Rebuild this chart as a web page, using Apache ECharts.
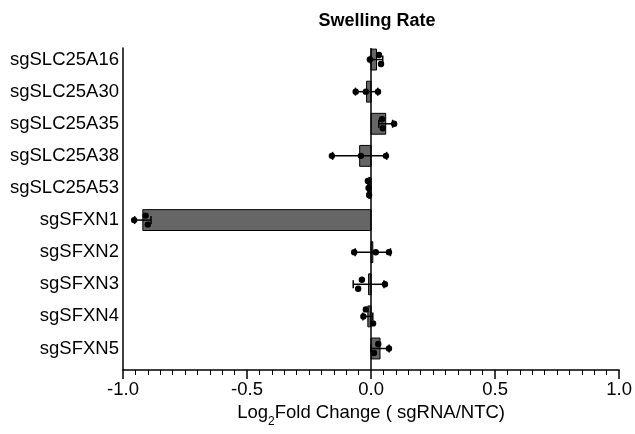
<!DOCTYPE html>
<html>
<head>
<meta charset="utf-8">
<script src="https://cdn.jsdelivr.net/npm/echarts@6/dist/echarts.min.js"></script>
<style>html,body{margin:0;padding:0;background:#fff}#c{width:635px;height:434px}</style>
</head>
<body>
<div id="c"></div>
<script>
var categories = ['sgSLC25A16','sgSLC25A30','sgSLC25A35','sgSLC25A38','sgSLC25A53','sgSFXN1','sgSFXN2','sgSFXN3','sgSFXN4','sgSFXN5'];
var means = [0.022, -0.018, 0.059, -0.046, -0.010, -0.920, 0.007, -0.010, -0.013, 0.036];
var sds   = [0.025, 0.045, 0.028, 0.109, 0.003, 0.033, 0.071, 0.062, 0.020, 0.037];
var rep1  = [-0.005, -0.062, 0.044, -0.158, -0.013, -0.955, -0.068, -0.037, -0.021, 0.029];
var rep2  = [0.032, -0.021, 0.047, -0.041, -0.010, -0.909, 0.019, -0.052, -0.031, 0.012];
var rep3  = [0.040, 0.028, 0.093, 0.060, -0.008, -0.900, 0.072, 0.056, 0.008, 0.072];
var xTicks = [-1.0, -0.5, 0.0, 0.5, 1.0];

var FONT = '"Liberation Sans", Arial, sans-serif';
var chart = echarts.init(document.getElementById('c'), null, {renderer: 'canvas'});

var barData = categories.map(function (c, i) { return [means[i], i]; });
var errData = categories.map(function (c, i) { return [means[i], i, sds[i]]; });
var dotData = categories.map(function (c, i) { return [rep1[i], i, rep2[i], rep3[i]]; });

function renderBar(params, api) {
  var v = api.value(0), i = api.value(1);
  var p0 = api.coord([0, i]);
  var p1 = api.coord([v, i]);
  var h = api.size([0, 0.65])[1];
  var x = Math.min(p0[0], p1[0]);
  var w = Math.abs(p1[0] - p0[0]);
  return {
    type: 'rect',
    shape: {x: x, y: p0[1] - h / 2, width: w, height: h},
    style: {fill: '#666666', stroke: '#000', lineWidth: 1}
  };
}

function renderErr(params, api) {
  var m = api.value(0), i = api.value(1), s = api.value(2);
  var pl = api.coord([m - s, i]);
  var pr = api.coord([m + s, i]);
  var cap = 4;
  var st = {stroke: '#000', lineWidth: 1.5};
  return {
    type: 'group',
    children: [
      {type: 'line', shape: {x1: pl[0], y1: pl[1], x2: pr[0], y2: pr[1]}, style: st},
      {type: 'line', shape: {x1: pl[0], y1: pl[1] - cap, x2: pl[0], y2: pl[1] + cap}, style: st},
      {type: 'line', shape: {x1: pr[0], y1: pr[1] - cap, x2: pr[0], y2: pr[1] + cap}, style: st}
    ]
  };
}

function renderDots(params, api) {
  var i = api.value(1);
  var vals = [api.value(0), api.value(2), api.value(3)];
  var pts = vals.map(function (v) { return api.coord([v, i]); });
  // simple beeswarm-like spreading of overlapping dots
  var n = pts.length, groups = [], used = [];
  for (var a = 0; a < n; a++) {
    if (used[a]) continue;
    var g = [a]; used[a] = true;
    for (var b = a + 1; b < n; b++) {
      if (!used[b] && g.some(function (k) { return Math.abs(pts[k][0] - pts[b][0]) < 8; })) { g.push(b); used[b] = true; }
    }
    groups.push(g);
  }
  var offs = [];
  groups.forEach(function (g) {
    if (g.length === 1) offs[g[0]] = 0;
    else if (g.length === 2) { offs[g[0]] = -4.5; offs[g[1]] = 4.5; }
    else { offs[g[0]] = -7; offs[g[1]] = 0; offs[g[2]] = 7; }
  });
  return {
    type: 'group',
    children: pts.map(function (p, k) {
      return {type: 'circle', shape: {cx: p[0], cy: p[1] + offs[k], r: 3.2}, style: {fill: '#000'}};
    })
  };
}

chart.setOption({
  animation: false,
  backgroundColor: '#fff',
  title: {
    text: 'Swelling Rate',
    left: 372, top: 7, textAlign: 'center',
    textStyle: {fontFamily: FONT, fontWeight: 'bold', fontSize: 18, color: '#000'}
  },
  grid: {left: 123, right: 15, top: 48, bottom: 64, containLabel: false},
  xAxis: {
    type: 'value', min: -1, max: 1, interval: 0.5,
    axisLine: {show: true, onZero: false, lineStyle: {color: '#000', width: 1.5}},
    axisTick: {show: true, length: 9, lineStyle: {color: '#000', width: 1.5}},
    minorTick: {show: true, splitNumber: 10, length: 5, lineStyle: {color: '#000', width: 1}},
    splitLine: {show: false},
    axisLabel: {
      color: '#000', fontFamily: FONT, fontSize: 18.5, margin: 10,
      customValues: xTicks,
      formatter: function (v) { return v.toFixed(1); }
    },
    name: '{a|Log}{b|2}{a|Fold Change ( sgRNA/NTC)}',
    nameLocation: 'middle', nameGap: 31,
    nameTextStyle: {
      rich: {
        a: {fontFamily: FONT, fontSize: 18.5, color: '#000', lineHeight: 22, verticalAlign: 'top'},
        b: {fontFamily: FONT, fontSize: 12, color: '#000', lineHeight: 12, verticalAlign: 'top', padding: [12, 0, 0, 0]}
      }
    }
  },
  yAxis: {
    type: 'value', inverse: true, min: -0.36, max: 9.67,
    axisLine: {show: true, onZero: false, lineStyle: {color: '#000', width: 1.5}},
    axisTick: {show: false},
    splitLine: {show: false},
    axisLabel: {
      color: '#000', fontFamily: FONT, fontSize: 18.5, margin: 4,
      customValues: categories.map(function (c, i) { return i; }),
      formatter: function (v) { return categories[Math.round(v)] || ''; }
    }
  },
  series: [
    {
      type: 'custom', name: 'bars', renderItem: renderBar, data: barData,
      encode: {x: 0, y: 1}, z: 2,
      markLine: {
        silent: true, symbol: 'none', label: {show: false},
        lineStyle: {color: '#000', width: 1.5, type: 'solid'},
        data: [{xAxis: 0}]
      }
    },
    {type: 'custom', name: 'err', renderItem: renderErr, data: errData, encode: {x: 0, y: 1}, z: 4},
    {type: 'custom', name: 'dots', renderItem: renderDots, data: dotData, encode: {x: [0, 2, 3], y: 1}, z: 5}
  ]
});
</script>
</body>
</html>
